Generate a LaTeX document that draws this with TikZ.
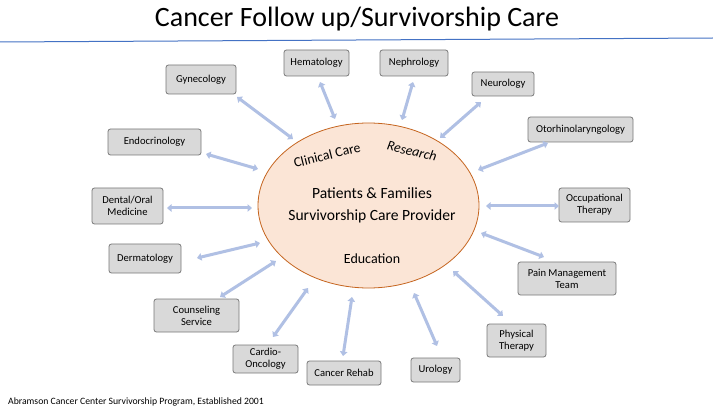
\documentclass[tikz,border=0pt]{standalone}
\usepackage{fontspec}
\setmainfont{Carlito}
\usetikzlibrary{arrows.meta,shapes.geometric}
\definecolor{boxfill}{RGB}{217,217,217}
\definecolor{boxdraw}{RGB}{120,120,120}
\definecolor{arrcol}{RGB}{176,192,228}
\definecolor{ellfill}{RGB}{251,229,214}
\definecolor{elldraw}{RGB}{197,100,30}
\definecolor{rulecol}{RGB}{68,114,196}
\tikzset{
  spec/.style={draw=boxdraw, fill=boxfill, line width=0.8pt, rounded corners=2.5pt, inner sep=0pt, align=center, font=\fontsize{10.6}{11.8}\selectfont},
  link/.style={draw=arrcol, line width=3pt, {Triangle[width=7.5pt,length=4.5pt]}-{Triangle[width=7.5pt,length=4.5pt]}, shorten <=0pt, shorten >=0pt}
}
\begin{document}
\begin{tikzpicture}[x=1pt,y=-1pt]
\useasboundingbox (0,0) rectangle (713,409);
\fill[white] (0,0) rectangle (713,409);
% title
\node[font=\fontsize{28}{32}\selectfont] (title) at (357,19) {Cancer Follow up/Survivorship Care};
\coordinate (rl) at (0,42);
\coordinate (rr) at (713,38);
\draw[rulecol, line width=1pt] (rl) -- (rr);
% ellipse
\node[ellipse, draw=elldraw, fill=ellfill, line width=0.8pt, minimum width=221pt, minimum height=165pt, inner sep=0pt] (ell) at (368.5,205.5) {};
\node[font=\fontsize{15.6}{18}\selectfont] (pf) at (372,193) {Patients \& Families};
\node[font=\fontsize{15.6}{18}\selectfont] (scp) at (372,216) {Survivorship Care Provider};
\node[font=\fontsize{14}{16}\selectfont] (edu) at (372,259) {Education};
\node[font=\fontsize{13.8}{16}\selectfont, rotate=14] (cc) at (327,155) {Clinical Care};
\node[font=\fontsize{13.8}{16}\selectfont\itshape, rotate=-13] (res) at (412,151) {Research};
% boxes
\node[spec, minimum width=70pt, minimum height=29pt] (gyn) at (201,79.5) {Gynecology};
\node[spec, minimum width=65pt, minimum height=26pt] (hem) at (316.5,63) {Hematology};
\node[spec, minimum width=68pt, minimum height=26pt] (nep) at (414,63) {Nephrology};
\node[spec, minimum width=62pt, minimum height=24pt] (neu) at (503,84) {Neurology};
\node[spec, minimum width=105pt, minimum height=25pt] (oto) at (580.5,129.5) {Otorhinolaryngology};
\node[spec, minimum width=93pt, minimum height=26pt] (endo) at (154.5,142) {Endocrinology};
\node[spec, minimum width=71pt, minimum height=36pt] (dent) at (127.5,206) {Dental/Oral\\Medicine};
\node[spec, minimum width=71pt, minimum height=34pt] (occ) at (594.5,205) {Occupational\\Therapy};
\node[spec, minimum width=72pt, minimum height=29pt] (derm) at (145,258.5) {Dermatology};
\node[spec, minimum width=98pt, minimum height=33pt] (pain) at (567,278.5) {Pain Management\\Team};
\node[spec, minimum width=85pt, minimum height=33pt] (couns) at (196.5,315.5) {Counseling\\Service};
\node[spec, minimum width=59pt, minimum height=33pt] (phys) at (516.5,340.5) {Physical\\Therapy};
\node[spec, minimum width=65pt, minimum height=28pt] (card) at (265.5,359) {Cardio-\\Oncology};
\node[spec, minimum width=74pt, minimum height=24pt] (rehab) at (344,373) {Cancer Rehab};
\node[spec, minimum width=49pt, minimum height=24pt] (uro) at (435.5,370) {Urology};
% arrow end points
\coordinate (gyn1) at (237,97);   \coordinate (gyn2) at (293,139);
\coordinate (hem1) at (320,82);   \coordinate (hem2) at (335,119);
\coordinate (endo1) at (206,154); \coordinate (endo2) at (258,169);
\coordinate (dent1) at (167,208); \coordinate (dent2) at (252,208);
\coordinate (nep1) at (413,82);   \coordinate (nep2) at (402,120);
\coordinate (neu1) at (481,102);  \coordinate (neu2) at (440,138);
\coordinate (oto1) at (548,143);  \coordinate (oto2) at (478,170);
\coordinate (occ1) at (559,206);  \coordinate (occ2) at (486,206);
\coordinate (pain1) at (544,257); \coordinate (pain2) at (481,233);
\coordinate (phys1) at (503,316); \coordinate (phys2) at (453,271);
\coordinate (uro1) at (437,346);  \coordinate (uro2) at (414,293);
\coordinate (derm1) at (197,258); \coordinate (derm2) at (260,243);
\coordinate (couns1) at (220,297);\coordinate (couns2) at (276,261);
\coordinate (card1) at (273,337); \coordinate (card2) at (308,288);
\coordinate (rehab1) at (343,356);\coordinate (rehab2) at (352,297);
\foreach \n in {gyn,hem,endo,dent,nep,neu,oto,occ,pain,phys,uro,derm,couns,card,rehab}
  \draw[link] (\n1) -- (\n2);
% footer
\node[font=\fontsize{9.7}{11}\selectfont, anchor=west, inner sep=0pt] (foot) at (8,401.5) {Abramson Cancer Center Survivorship Program, Established 2001};
\end{tikzpicture}
\end{document}
